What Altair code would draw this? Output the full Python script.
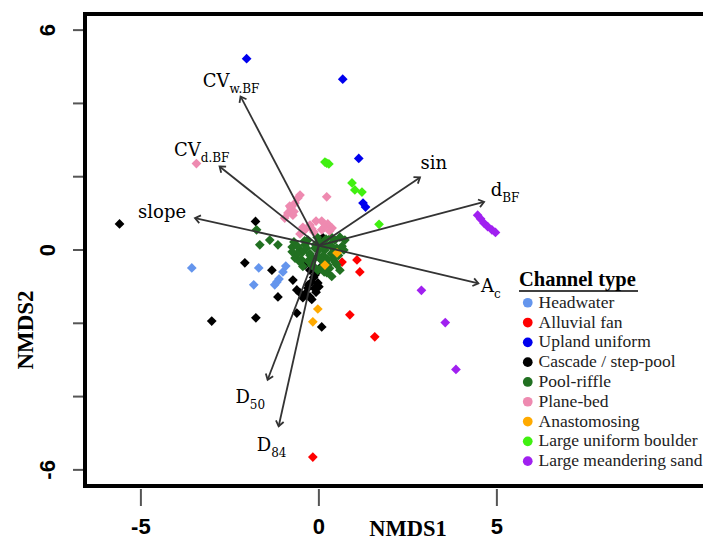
import altair as alt
import numpy as np
import pandas as pd

# ---------------- data ----------------
types = ["Headwater", "Alluvial fan", "Upland uniform", "Cascade / step-pool",
         "Pool-riffle", "Plane-bed", "Anastomosing", "Large uniform boulder",
         "Large meandering sand"]
colors = ["#6495ED", "#FF0000", "#0000EE", "#000000", "#217021",
          "#EE8AB0", "#FFAA00", "#40F010", "#A020F0"]

headwater_x = [-3.57, -1.69, -1.83, -1.24, -1.12, -1.01, -0.93, -1.18]
headwater_y = [-0.49, -0.49, -0.95, -0.95, -0.79, -0.60, -0.44, -0.87]

alluvial_x = [0.65, 1.07, 1.15, 0.87, 1.57, -0.17, 0.11]
alluvial_y = [-0.33, -0.27, -0.60, -1.77, -2.37, -5.65, -0.51]

upland_x = [-2.03, 0.67, 1.12, 1.24, 1.31]
upland_y = [5.22, 4.66, 2.50, 1.28, 1.17]

cascade_x = [-5.60, -1.78, -2.08, -1.32, -1.15, -0.73, -3.01, -1.77, -0.62, 0.08,
             0.11, -0.39, -0.25, -0.11, -0.20, -0.31, -0.39, -0.25, -0.08, -0.53,
             -0.62, -0.03, 0.03, -0.15, -0.30, -0.12, -0.45, -0.20, 0.00, -0.05,
             0.05]
cascade_y = [0.71, 0.78, -0.35, -0.55, -1.28, -0.82, -1.94, -1.85, -1.72, -2.10,
             0.34, -0.41, -0.55, -0.68, -0.87, -1.04, -1.20, -1.28, -1.15, -1.17,
             -1.09, -0.90, -0.49, -0.75, -0.95, -1.05, -1.30, -1.35, -1.00, -0.60,
             0.25]

poolriffle_x = [-1.75, -1.66, -1.38, -1.15, -0.75, 0.36, -0.53, -0.39, -0.25, -0.11,
                0.03, 0.17, 0.31, 0.45, 0.59, 0.73, 0.08, -0.20, -0.53, -0.67,
                0.25, 0.45, -0.03, 0.59, -0.31, -0.70, -0.45, -0.15, 0.12, 0.35,
                0.50, -0.30, 0.00, 0.20, -0.05, 0.40, -0.60, 0.65, 0.10, -0.45,
                0.22, 0.30, -0.60, -0.35, -0.10, 0.15, 0.40, 0.55, -0.50, -0.25,
                0.00, 0.25, 0.50, -0.15, 0.10, 0.35, -0.40, 0.70, -0.75, 0.15]
poolriffle_y = [0.55, 0.14, 0.27, 0.14, 0.08, -0.72, 0.00, 0.14, -0.14, 0.05,
                0.22, 0.00, 0.14, 0.27, 0.35, 0.27, -0.27, -0.41, -0.33, -0.22,
                -0.41, -0.33, -0.55, -0.55, 0.27, 0.22, -0.05, -0.25, -0.15, -0.10,
                0.05, -0.30, 0.00, 0.30, 0.35, -0.25, 0.10, 0.10, -0.45, -0.45,
                -0.62, -0.50, -0.10, 0.05, 0.15, 0.10, 0.05, -0.15, -0.25, -0.10,
                -0.20, -0.25, -0.40, -0.45, -0.30, 0.35, 0.25, 0.00, -0.05, -0.60]

planebed_x = [-3.44, 0.22, -0.87, -0.79, -0.67, -0.59, -0.53, -0.96, -0.73,
              -0.39, -0.25, -0.08, 0.08, 0.25, 0.37, -0.14, 0.08, -0.53,
              -0.45, 0.15, -0.20, 0.30, -0.82, -0.70]
planebed_y = [2.36, 1.45, 1.01, 1.15, 1.28, 1.42, 1.50, 0.87, 0.95,
              0.55, 0.68, 0.79, 0.79, 0.71, 0.60, 0.49, 0.55, 0.44,
              0.62, 0.62, 0.58, 0.52, 1.20, 1.05]

anasto_x = [0.51, 0.17, -0.03, -0.17]
anasto_y = [-0.08, -0.41, -1.61, -1.96]

boulder_x = [0.22, 0.28, 0.17, 0.93, 1.01, 1.21, 1.69]
boulder_y = [2.37, 2.35, 2.40, 1.83, 1.64, 1.58, 0.70]

sand_x = [4.46, 4.54, 4.64, 4.74, 4.86, 4.96, 2.88, 3.55, 3.85]
sand_y = [0.95, 0.85, 0.73, 0.64, 0.55, 0.48, -1.10, -1.98, -3.26]

# environmental vectors
arrow_x = [-2.20, -2.79, -3.48, 2.84, 4.64, 4.48, -1.44, -1.13]
arrow_y = [4.19, 2.28, 0.87, 1.98, 1.31, -0.91, -3.54, -4.81]
arrow_origin = (0.0, 0.12)
label_main = ["CV", "CV", "slope", "sin", "d", "A", "D", "D"]
label_sub = ["w.BF", "d.BF", "", "", "BF", "c", "50", "84"]
label_x = [-2.51, -3.32, -3.73, 3.60, 5.15, 4.92, -1.94, -1.34]
label_y = [4.58, 2.71, 1.00, 2.36, 1.61, -1.02, -4.03, -5.34]

# axes
x_ticks = [-5, 0, 5]
x_tick_labels = ["-5", "0", "5"]
y_ticks = [-6, -4, -2, 0, 2, 4, 6]
y_label_vals = [-6, 0, 6]
y_tick_labels = ["-6", "0", "6"]
x_title = "NMDS1"
y_title = "NMDS2"

# ---------------- tables ----------------
series = [
    (types[0], headwater_x, headwater_y),
    (types[1], alluvial_x, alluvial_y),
    (types[2], upland_x, upland_y),
    (types[3], cascade_x, cascade_y),
    (types[4], poolriffle_x, poolriffle_y),
    (types[5], planebed_x, planebed_y),
    (types[6], anasto_x, anasto_y),
    (types[7], boulder_x, boulder_y),
    (types[8], sand_x, sand_y),
]
pts = pd.concat(
    [pd.DataFrame({"type": t, "x": xs, "y": ys}) for t, xs, ys in series],
    ignore_index=True,
)

X_DOMAIN = [-6.57, 10.79]
Y_DOMAIN = [-6.44, 6.44]
W, H = 618, 472

arr = pd.DataFrame({"x0": arrow_origin[0], "y0": arrow_origin[1],
                    "x1": arrow_x, "y1": arrow_y})
dx_px = (arr["x1"] - arr["x0"]) * W / (X_DOMAIN[1] - X_DOMAIN[0])
dy_px = (arr["y1"] - arr["y0"]) * H / (Y_DOMAIN[1] - Y_DOMAIN[0])
arr["ang"] = np.mod(np.degrees(np.arctan2(dx_px, dy_px)), 360)

labs = pd.DataFrame({"x": label_x, "y": label_y,
                     "main": label_main, "sub": label_sub})
xt = pd.DataFrame({"v": x_ticks, "lab": x_tick_labels})
yt = pd.DataFrame({"v": y_ticks})
yl = pd.DataFrame({"v": y_label_vals, "lab": y_tick_labels})

xs = alt.Scale(domain=X_DOMAIN, nice=False, zero=False)
ys = alt.Scale(domain=Y_DOMAIN, nice=False, zero=False)

legend = alt.Legend(
    title="Channel type", orient="none", legendX=434, legendY=256,
    titleFont="Liberation Serif", titleFontSize=20.5, titleFontWeight="bold",
    titleColor="black", titlePadding=3.5,
    labelFont="Liberation Serif", labelFontSize=17.5, labelColor="#222222",
    labelLimit=400,
    symbolType="circle", symbolSize=95, symbolStrokeWidth=0,
    rowPadding=0.8, labelOffset=2, padding=0, offset=0,
)

points = alt.Chart(pts).mark_point(
    shape="diamond", filled=True, size=95, opacity=1
).encode(
    x=alt.X("x:Q", scale=xs, axis=None),
    y=alt.Y("y:Q", scale=ys, axis=None),
    color=alt.Color("type:N", scale=alt.Scale(domain=types, range=colors),
                    legend=legend),
)

lines = alt.Chart(arr).mark_rule(color="#333333", strokeWidth=1.8).encode(
    x=alt.X("x0:Q", scale=xs, axis=None),
    y=alt.Y("y0:Q", scale=ys, axis=None),
    x2="x1:Q", y2="y1:Q",
)

heads = alt.Chart(arr).mark_point(
    shape="M -0.75 1 L 0 0 L 0.75 1", filled=False, size=110,
    strokeWidth=1.8, color="#333333", opacity=1
).encode(
    x=alt.X("x1:Q", scale=xs, axis=None),
    y=alt.Y("y1:Q", scale=ys, axis=None),
    angle=alt.Angle("ang:Q", scale=None),
)

main_txt = alt.Chart(labs).mark_text(
    align="right", baseline="middle", font="DejaVu Serif", fontSize=18,
    color="black"
).encode(
    x=alt.X("x:Q", scale=xs, axis=None),
    y=alt.Y("y:Q", scale=ys, axis=None),
    text="main:N",
)
sub_txt = alt.Chart(labs).mark_text(
    align="left", baseline="middle", font="DejaVu Serif", fontSize=12,
    color="black", dy=7
).encode(
    x=alt.X("x:Q", scale=xs, axis=None),
    y=alt.Y("y:Q", scale=ys, axis=None),
    text="sub:N",
)

# ---- hand-drawn axes (ticks, labels, titles) ----
x_tick_marks = alt.Chart(xt).mark_rule(color="#555555", strokeWidth=2).encode(
    x=alt.X("v:Q", scale=xs, axis=None),
    y=alt.value(H + 3), y2=alt.value(H + 20),
)
x_tick_text = alt.Chart(xt).mark_text(
    font="Liberation Sans", fontWeight="bold", fontSize=22, color="black",
    align="center", baseline="middle"
).encode(
    x=alt.X("v:Q", scale=xs, axis=None),
    y=alt.value(H + 41),
    text="lab:N",
)
y_tick_marks = alt.Chart(yt).mark_rule(color="#555555", strokeWidth=2).encode(
    y=alt.Y("v:Q", scale=ys, axis=None),
    x=alt.value(-12), x2=alt.value(0),
)
y_tick_text = alt.Chart(yl).mark_text(
    font="Liberation Sans", fontWeight="bold", fontSize=22, color="black",
    align="center", baseline="middle", angle=270
).encode(
    y=alt.Y("v:Q", scale=ys, axis=None),
    x=alt.value(-37),
    text="lab:N",
)
titles = pd.DataFrame({"t": [x_title]})
x_title_txt = alt.Chart(titles).mark_text(
    font="Liberation Serif", fontWeight="bold", fontSize=22.5, color="black",
    align="center", baseline="alphabetic"
).encode(x=alt.value(323), y=alt.value(H + 50), text="t:N")
y_titles = pd.DataFrame({"t": [y_title]})
y_title_txt = alt.Chart(y_titles).mark_text(
    font="Liberation Serif", fontWeight="bold", fontSize=23, color="black",
    align="center", baseline="middle", angle=270
).encode(x=alt.value(-59), y=alt.value(316), text="t:N")

# frame: open on the right (the right edge falls outside the page)
one = pd.DataFrame({"a": [0]})
frame = alt.Chart(one).mark_rect(
    fillOpacity=0, stroke="black", strokeWidth=4
).encode(x=alt.value(0), x2=alt.value(W + 30), y=alt.value(0), y2=alt.value(H))
underline = alt.Chart(one).mark_rule(color="black", strokeWidth=1.5).encode(
    x=alt.value(434), x2=alt.value(553), y=alt.value(277))

chart = alt.layer(
    points, lines, heads, main_txt, sub_txt,
    x_tick_marks, x_tick_text, y_tick_marks, y_tick_text,
    x_title_txt, y_title_txt, frame, underline,
).properties(
    width=W, height=H,
    autosize=alt.AutoSizeParams(type="none"),
    padding={"left": 85, "top": 14, "right": 0, "bottom": 54},
    background="white",
).configure_view(strokeWidth=0)

chart.save("out.html", embed_options={"renderer": "svg", "actions": False})
